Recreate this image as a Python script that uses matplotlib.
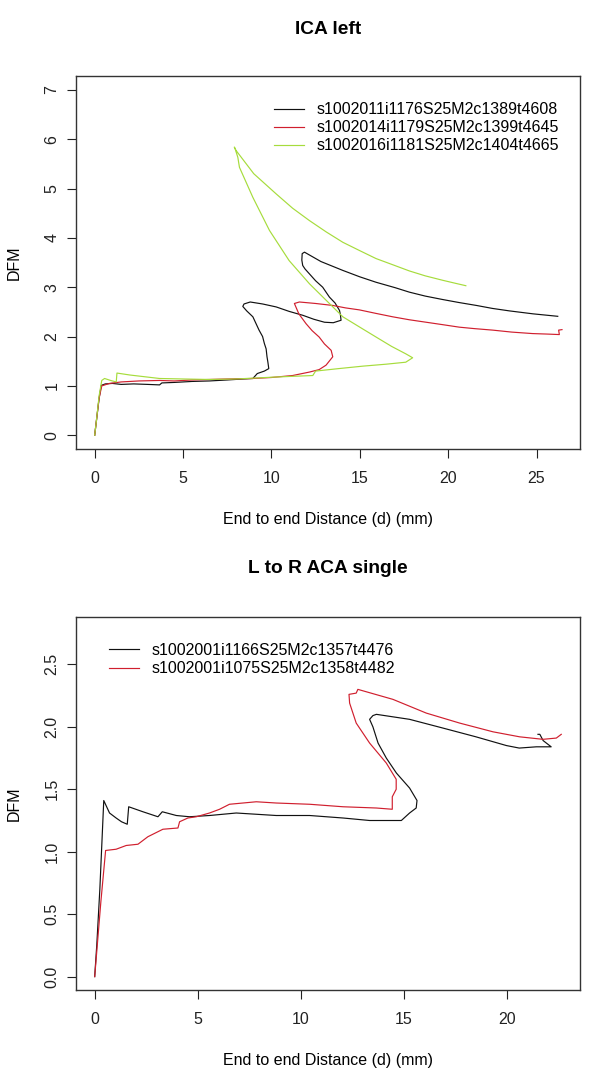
import matplotlib
matplotlib.use("Agg")
import matplotlib.pyplot as plt

plt.rcParams["font.family"] = ["Liberation Sans", "DejaVu Sans"]

# ---- panel 1: ICA left ----
ica_names = [
    "s1002011i1176S25M2c1389t4608",
    "s1002014i1179S25M2c1399t4645",
    "s1002016i1181S25M2c1404t4665",
]

ica_black_x = [0.0, 0.1, 0.25, 0.37, 0.6, 1.0, 1.5, 2.2, 3.0, 3.67, 3.8, 4.5, 5.5, 6.5,
               7.5, 8.4, 8.95, 9.2, 9.6, 9.85, 9.8, 9.75, 9.7, 9.6, 9.5, 9.3, 8.95,
               8.6, 8.38, 8.45, 8.8, 9.5, 10.27, 11.0, 11.78, 12.4, 13.0, 13.5, 13.94,
               13.9, 13.85, 13.6, 13.28, 12.9, 12.5, 12.15, 11.9, 11.77, 11.72,
               11.74, 11.87, 12.8, 14.04, 15.0, 15.92, 17.0, 17.8, 18.7, 19.69, 20.6,
               21.6, 22.5, 23.46, 24.8, 26.2]
ica_black_y = [0.0, 0.3, 0.75, 1.01, 1.04, 1.05, 1.03, 1.04, 1.03, 1.02, 1.06, 1.07,
               1.09, 1.10, 1.12, 1.14, 1.15, 1.25, 1.30, 1.35, 1.48, 1.59, 1.75, 1.86,
               2.0, 2.13, 2.40, 2.52, 2.61, 2.66, 2.70, 2.66, 2.60, 2.51, 2.43, 2.35,
               2.29, 2.28, 2.33, 2.45, 2.53, 2.68, 2.80, 3.0, 3.13, 3.27, 3.37, 3.44,
               3.55, 3.68, 3.71, 3.52, 3.34, 3.21, 3.10, 2.99, 2.90, 2.82, 2.75, 2.69,
               2.63, 2.57, 2.52, 2.46, 2.41]

ica_red_x = [0.0, 0.1, 0.25, 0.4, 0.84, 1.5, 2.5, 3.67, 4.5, 5.5, 6.5, 7.5, 8.95,
             10.0, 11.2, 12.15, 12.7, 13.09, 13.47, 13.38, 13.0, 12.7, 12.3, 11.96,
             11.55, 11.3, 11.58, 12.5, 13.47, 14.2, 14.98, 15.9, 16.86, 17.8, 18.75,
             19.7, 20.63, 21.5, 22.52, 23.6, 24.78, 25.6, 26.29, 26.25, 26.44]
ica_red_y = [0.0, 0.3, 0.75, 1.0, 1.05, 1.08, 1.10, 1.11, 1.10, 1.12, 1.13, 1.14, 1.15,
             1.17, 1.21, 1.28, 1.33, 1.42, 1.59, 1.72, 1.85, 1.99, 2.12, 2.26, 2.46,
             2.67, 2.70, 2.67, 2.63, 2.58, 2.54, 2.47, 2.40, 2.34, 2.29, 2.24, 2.19,
             2.16, 2.13, 2.09, 2.06, 2.05, 2.04, 2.13, 2.14]

ica_green_x = [0.0, 0.1, 0.25, 0.4, 0.56, 0.9, 1.22, 1.26, 2.0, 3.67, 5.0, 6.5, 8.0,
               10.27, 12.34, 12.5, 13.8, 15.17, 16.5, 17.6, 17.99, 17.6, 16.8, 15.92,
               15.0, 14.04, 13.28, 12.15, 11.0, 9.89, 8.95, 8.19, 8.1, 7.95, 7.9,
               8.0, 9.0, 10.27, 11.2, 12.15, 13.1, 14.04, 15.0, 15.92, 16.9, 17.8,
               18.7, 19.69, 20.4, 21.0]
ica_green_y = [0.0, 0.3, 0.8, 1.11, 1.15, 1.11, 1.08, 1.26, 1.22, 1.15, 1.14, 1.13,
               1.14, 1.18, 1.21, 1.30, 1.35, 1.40, 1.44, 1.48, 1.57, 1.65, 1.80, 1.99,
               2.19, 2.40, 2.67, 3.07, 3.54, 4.15, 4.82, 5.43, 5.63, 5.80, 5.84, 5.77,
               5.30, 4.89, 4.60, 4.35, 4.12, 3.91, 3.74, 3.58, 3.45, 3.33, 3.23, 3.14,
               3.08, 3.03]

# ---- panel 2: L to R ACA single ----
aca_names = [
    "s1002001i1166S25M2c1357t4476",
    "s1002001i1075S25M2c1358t4482",
]

aca_black_x = [0.0, 0.1, 0.25, 0.44, 0.72, 1.04, 1.3, 1.58, 1.65, 2.34, 3.07, 3.28,
               3.96, 4.6, 5.57, 6.87, 8.81, 10.43, 12.05, 13.34, 14.88, 15.28, 15.6,
               15.64, 15.28, 14.64, 14.15, 13.75, 13.5, 13.34, 13.5, 13.67, 15.28,
               16.9, 18.5, 19.98, 20.6, 21.43, 22.15, 21.76, 21.6, 21.51]
aca_black_y = [0.0, 0.25, 0.7, 1.41, 1.31, 1.27, 1.24, 1.22, 1.36, 1.32, 1.28, 1.32,
               1.29, 1.28, 1.29, 1.31, 1.29, 1.29, 1.27, 1.25, 1.25, 1.31, 1.35, 1.41,
               1.51, 1.63, 1.75, 1.87, 2.00, 2.06, 2.09, 2.10, 2.06, 1.99, 1.92, 1.85,
               1.83, 1.84, 1.84, 1.89, 1.94, 1.94]

aca_red_x = [0.0, 0.1, 0.3, 0.53, 1.04, 1.53, 2.1, 2.34, 2.58, 3.31, 4.04, 4.12, 4.52,
             4.93, 5.57, 6.06, 6.54, 7.19, 7.84, 8.81, 10.43, 12.05, 13.67, 14.44,
             14.44, 14.63, 14.63, 14.15, 13.34, 12.69, 12.37, 12.34, 12.69, 12.77,
             14.47, 16.09, 17.71, 19.33, 20.62, 21.75, 22.4, 22.64]
aca_red_y = [0.0, 0.2, 0.6, 1.01, 1.02, 1.05, 1.06, 1.09, 1.12, 1.18, 1.19, 1.24, 1.27,
             1.28, 1.31, 1.34, 1.38, 1.39, 1.40, 1.39, 1.38, 1.36, 1.35, 1.34, 1.44,
             1.50, 1.58, 1.71, 1.87, 2.03, 2.19, 2.26, 2.27, 2.30, 2.22, 2.11, 2.03,
             1.96, 1.92, 1.90, 1.91, 1.94]

BLACK = "#111111"
RED = "#d01f2e"
GREEN = "#a6dc3c"
FS = 11.5
LW = 0.85


def style_axes(ax, title, xticks, yticks, yticklabels, xlim, ylim, title_y):
    ax.set_xlim(*xlim)
    ax.set_ylim(*ylim)
    ax.set_xticks(xticks)
    ax.set_yticks(yticks)
    ax.set_yticklabels(yticklabels, rotation=90, va="center")
    ax.tick_params(direction="out", length=6.5, width=0.8, labelsize=FS,
                   colors="#222222")
    ax.tick_params(axis="x", pad=9)
    ax.tick_params(axis="y", pad=5.5)
    for sp in ax.spines.values():
        sp.set_linewidth(1.0)
        sp.set_color("#333333")
    ax.set_title(title, fontweight="bold", fontsize=13.8, y=title_y, pad=0,
                 va="center")
    ax.set_xlabel("End to end Distance (d) (mm)", fontsize=FS, va="center")
    ax.xaxis.set_label_coords(0.5, -0.188)
    ax.set_ylabel("DFM", fontsize=FS, va="center")
    ax.yaxis.set_label_coords(-0.122, 0.5)


fig = plt.figure(figsize=(6.0, 10.81), dpi=100)

ax1 = fig.add_axes([0.1267, 0.5846, 0.84, 0.3451])
ax1.plot(ica_black_x, ica_black_y, color=BLACK, lw=LW, label=ica_names[0])
ax1.plot(ica_red_x, ica_red_y, color=RED, lw=LW, label=ica_names[1])
ax1.plot(ica_green_x, ica_green_y, color=GREEN, lw=LW, label=ica_names[2])
style_axes(ax1, "ICA left", [0, 5, 10, 15, 20, 25], list(range(8)),
           [str(v) for v in range(8)], (-1.056, 27.46), (-0.28, 7.28), 1.125)
ax1.legend(loc="upper left", bbox_to_anchor=(0.393, 0.93), frameon=False,
           borderaxespad=0, borderpad=0, handlelength=1.9, handletextpad=0.75,
           labelspacing=0.2, fontsize=FS)

ax2 = fig.add_axes([0.1267, 0.0842, 0.84, 0.3451])
ax2.plot(aca_black_x, aca_black_y, color=BLACK, lw=LW, label=aca_names[0])
ax2.plot(aca_red_x, aca_red_y, color=RED, lw=LW, label=aca_names[1])
style_axes(ax2, "L to R ACA single", [0, 5, 10, 15, 20],
           [0.0, 0.5, 1.0, 1.5, 2.0, 2.5],
           ["0.0", "0.5", "1.0", "1.5", "2.0", "2.5"], (-0.906, 23.55),
           (-0.107, 2.88), 1.13)
ax2.legend(loc="upper left", bbox_to_anchor=(0.0655, 0.93), frameon=False,
           borderaxespad=0, borderpad=0, handlelength=1.9, handletextpad=0.75,
           labelspacing=0.2, fontsize=FS)

fig.savefig("out.png", dpi=100)
